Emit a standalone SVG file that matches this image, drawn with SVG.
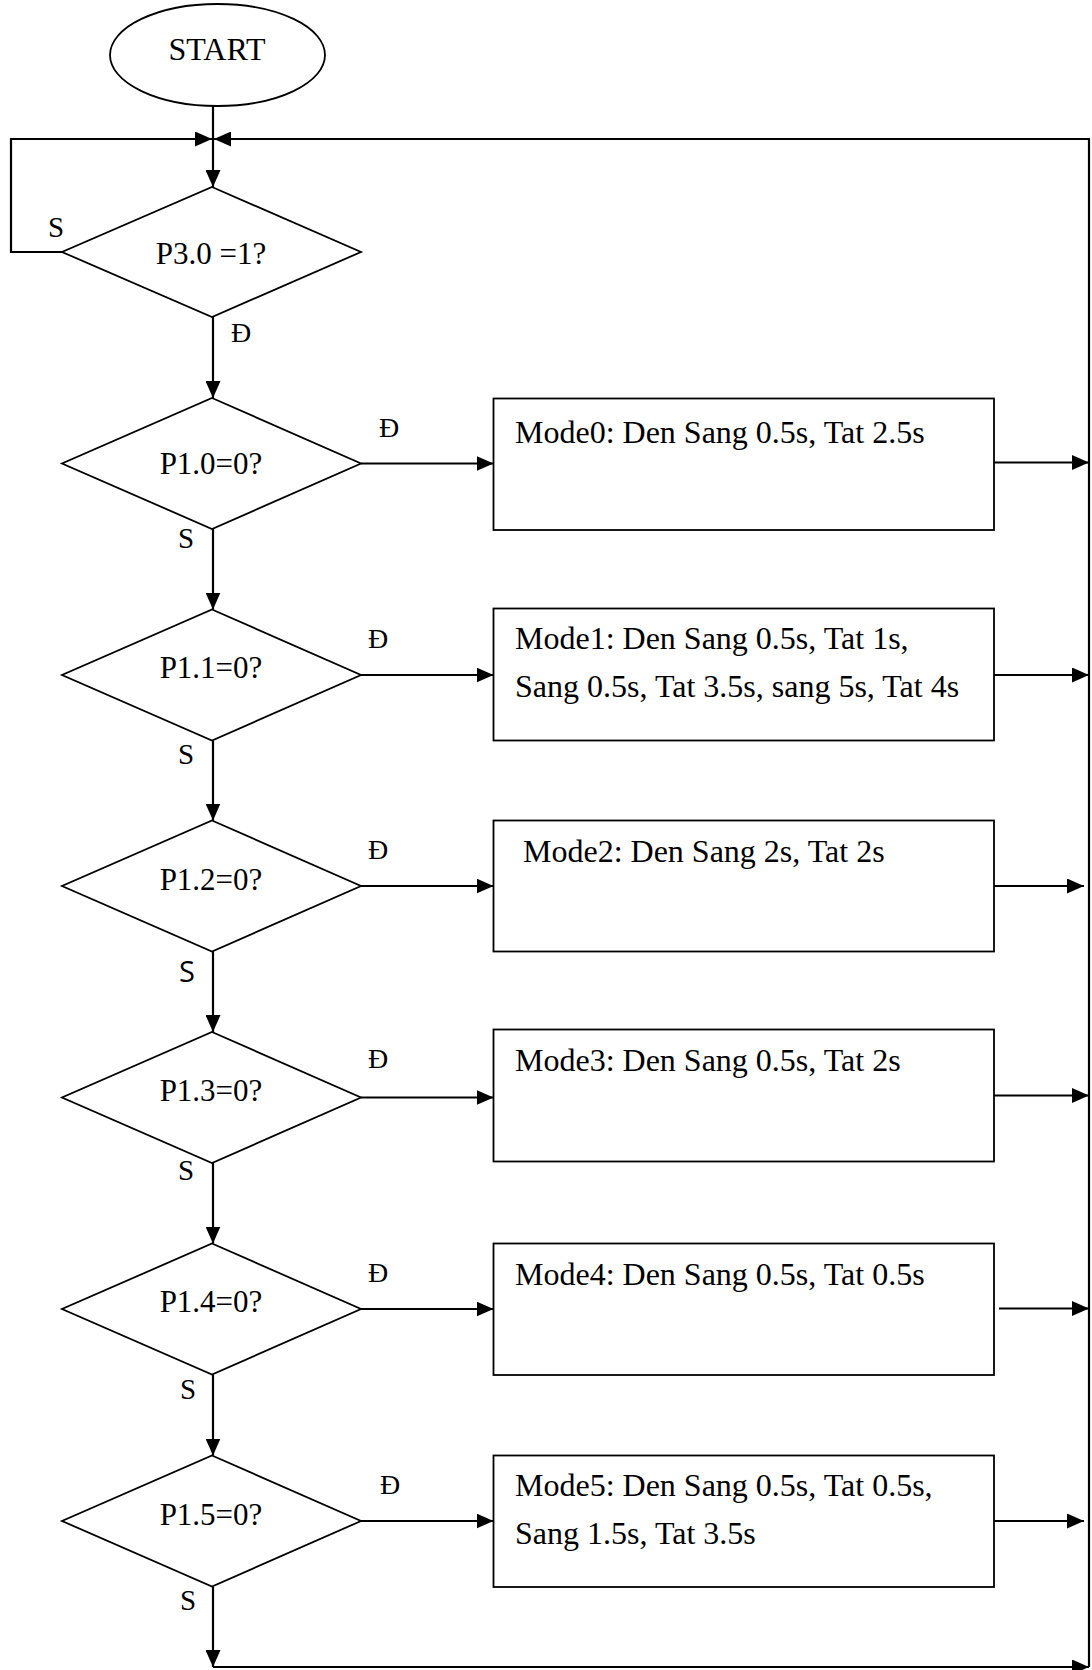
<svg xmlns="http://www.w3.org/2000/svg" width="1092" height="1670" viewBox="0 0 1092 1670">
<style>
.shape{fill:#fff;stroke:#000;stroke-width:1.8}
.ln{fill:none;stroke:#000;stroke-width:2.2}
.t{font-family:"Liberation Serif","Times New Roman",serif;fill:#000}
.big{font-size:32px}
.dt{font-size:31px}
.lb{font-size:28px}
.sl{font-size:29px}
.ss{font-family:"Open Sans","DejaVu Sans",sans-serif;font-size:29px;fill:#000}
</style>
<defs>
<marker id="ah" viewBox="0 0 17 15" refX="17" refY="7.5" markerWidth="17" markerHeight="15" markerUnits="userSpaceOnUse" orient="auto">
<path d="M0,0 L17,7.5 L0,15 Z" fill="#000"/>
</marker>
</defs>
<rect width="1092" height="1670" fill="#fff"/>

<g id="connectors">
<line class="ln" x1="213" y1="106" x2="213" y2="187" marker-end="url(#ah)"/>
<polyline class="ln" points="62,252 11,252 11,139 212,139" marker-end="url(#ah)"/>
<polyline class="ln" points="1089,1667 1089,139 214,139" marker-end="url(#ah)"/>
<line class="ln" x1="213" y1="317" x2="213" y2="398" marker-end="url(#ah)"/>
<line class="ln" x1="213" y1="529" x2="213" y2="609.5" marker-end="url(#ah)"/>
<line class="ln" x1="213" y1="740.5" x2="213" y2="820.5" marker-end="url(#ah)"/>
<line class="ln" x1="213" y1="951.5" x2="213" y2="1032" marker-end="url(#ah)"/>
<line class="ln" x1="213" y1="1163" x2="213" y2="1243.5" marker-end="url(#ah)"/>
<line class="ln" x1="213" y1="1374.5" x2="213" y2="1455.5" marker-end="url(#ah)"/>
<line class="ln" x1="213" y1="1586.5" x2="213" y2="1667" marker-end="url(#ah)"/>
<line class="ln" x1="213" y1="1667" x2="1089" y2="1667" marker-end="url(#ah)"/>
<line class="ln" x1="361" y1="463.5" x2="493.5" y2="463.5" marker-end="url(#ah)"/>
<line class="ln" x1="361" y1="675" x2="493.5" y2="675" marker-end="url(#ah)"/>
<line class="ln" x1="361" y1="886" x2="493.5" y2="886" marker-end="url(#ah)"/>
<line class="ln" x1="361" y1="1097.5" x2="493.5" y2="1097.5" marker-end="url(#ah)"/>
<line class="ln" x1="361" y1="1309" x2="493.5" y2="1309" marker-end="url(#ah)"/>
<line class="ln" x1="361" y1="1521" x2="493.5" y2="1521" marker-end="url(#ah)"/>
<line class="ln" x1="994" y1="462.5" x2="1089" y2="462.5" marker-end="url(#ah)"/>
<line class="ln" x1="994" y1="675" x2="1089" y2="675" marker-end="url(#ah)"/>
<line class="ln" x1="994" y1="886" x2="1084" y2="886" marker-end="url(#ah)"/>
<line class="ln" x1="994" y1="1095.5" x2="1089" y2="1095.5" marker-end="url(#ah)"/>
<line class="ln" x1="999" y1="1308.5" x2="1089" y2="1308.5" marker-end="url(#ah)"/>
<line class="ln" x1="991" y1="1521" x2="1084" y2="1521" marker-end="url(#ah)"/>
</g>

<g id="labels">
<text class="t sl" x="48" y="237">S</text>
<text class="t lb" x="231" y="342">Đ</text>
<text class="t lb" x="379" y="437">Đ</text>
<text class="t sl" x="178" y="548">S</text>
<text class="t lb" x="368" y="648">Đ</text>
<text class="t sl" x="178" y="764">S</text>
<text class="t lb" x="368" y="859">Đ</text>
<text class="ss" x="179" y="982">S</text>
<text class="t lb" x="368" y="1068">Đ</text>
<text class="t sl" x="178" y="1180">S</text>
<text class="t lb" x="368" y="1282">Đ</text>
<text class="t sl" x="180" y="1399">S</text>
<text class="t lb" x="380" y="1494">Đ</text>
<text class="t sl" x="180" y="1610">S</text>
</g>

<g id="start">
<ellipse class="shape" cx="217.5" cy="55" rx="107.5" ry="51"/>
<text class="t big" x="217" y="60" text-anchor="middle">START</text>
</g>

<g id="d30">
<polygon class="shape" points="212,187 361,252 212,317 62,252"/>
<text class="t dt" x="211" y="263.5" text-anchor="middle">P3.0 =1?</text>
</g>
<g id="d10">
<polygon class="shape" points="212,398 361,463.5 212,529 62,463.5"/>
<text class="t dt" x="211" y="474" text-anchor="middle">P1.0=0?</text>
</g>
<g id="d11">
<polygon class="shape" points="212,609.5 361,675 212,740.5 62,675"/>
<text class="t dt" x="211" y="678" text-anchor="middle">P1.1=0?</text>
</g>
<g id="d12">
<polygon class="shape" points="212,820.5 361,886 212,951.5 62,886"/>
<text class="t dt" x="211" y="890" text-anchor="middle">P1.2=0?</text>
</g>
<g id="d13">
<polygon class="shape" points="212,1032 361,1097.5 212,1163 62,1097.5"/>
<text class="t dt" x="211" y="1100.5" text-anchor="middle">P1.3=0?</text>
</g>
<g id="d14">
<polygon class="shape" points="212,1243.5 361,1309 212,1374.5 62,1309"/>
<text class="t dt" x="211" y="1312" text-anchor="middle">P1.4=0?</text>
</g>
<g id="d15">
<polygon class="shape" points="212,1455.5 361,1521 212,1586.5 62,1521"/>
<text class="t dt" x="211" y="1525" text-anchor="middle">P1.5=0?</text>
</g>

<g id="m0">
<rect class="shape" x="493.5" y="398.5" width="500.5" height="131.5"/>
<text class="t big" x="515" y="442.5">Mode0: Den Sang 0.5s, Tat 2.5s</text>
</g>
<g id="m1">
<rect class="shape" x="493.5" y="608.5" width="500.5" height="132"/>
<text class="t big" x="515" y="649">Mode1: Den Sang 0.5s, Tat 1s,</text>
<text class="t big" x="515" y="697">Sang 0.5s, Tat 3.5s, sang 5s, Tat 4s</text>
</g>
<g id="m2">
<rect class="shape" x="493.5" y="820.5" width="500.5" height="131"/>
<text class="t big" x="523" y="862">Mode2: Den Sang 2s, Tat 2s</text>
</g>
<g id="m3">
<rect class="shape" x="493.5" y="1029.5" width="500.5" height="132"/>
<text class="t big" x="515" y="1071">Mode3: Den Sang 0.5s, Tat 2s</text>
</g>
<g id="m4">
<rect class="shape" x="493.5" y="1243.5" width="500.5" height="131.5"/>
<text class="t big" x="515" y="1285">Mode4: Den Sang 0.5s, Tat 0.5s</text>
</g>
<g id="m5">
<rect class="shape" x="493.5" y="1455.5" width="500.5" height="131.5"/>
<text class="t big" x="515" y="1496">Mode5: Den Sang 0.5s, Tat 0.5s,</text>
<text class="t big" x="515" y="1543.5">Sang 1.5s, Tat 3.5s</text>
</g>
</svg>
